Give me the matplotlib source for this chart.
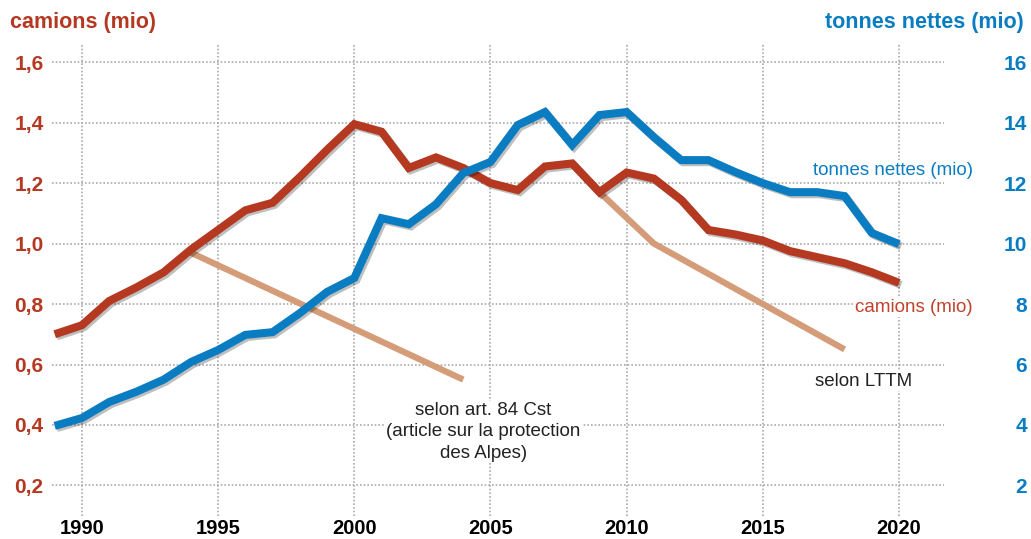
import matplotlib
matplotlib.use("Agg")
import matplotlib.pyplot as plt
import matplotlib.patheffects as pe

# données
annees = list(range(1989, 2021))
camions = [0.70, 0.73, 0.81, 0.855, 0.905, 0.98, 1.045, 1.11, 1.135, 1.22,
           1.31, 1.395, 1.37, 1.25, 1.285, 1.25, 1.20, 1.177, 1.255, 1.265,
           1.17, 1.235, 1.215, 1.145, 1.045, 1.03, 1.01, 0.975, 0.955, 0.935,
           0.905, 0.87]
tonnes = [3.97, 4.23, 4.76, 5.1, 5.5, 6.08, 6.48, 6.98, 7.07, 7.7,
          8.4, 8.86, 10.84, 10.64, 11.3, 12.33, 12.7, 13.92, 14.35, 13.26,
          14.25, 14.35, 13.52, 12.76, 12.76, 12.36, 12.0, 11.7, 11.7, 11.57,
          10.35, 9.98]

# objectifs
art84_x = [1994, 2004]
art84_y = [0.97, 0.55]
lttm_x = [2009, 2011, 2018]
lttm_y = [1.17, 1.0, 0.65]

x_ticks = [1990, 1995, 2000, 2005, 2010, 2015, 2020]
y_ticks = [0.2, 0.4, 0.6, 0.8, 1.0, 1.2, 1.4, 1.6]
y_labels = ["0,2", "0,4", "0,6", "0,8", "1,0", "1,2", "1,4", "1,6"]
y2_labels = ["2", "4", "6", "8", "10", "12", "14", "16"]

rouge = "#B53820"
bleu = "#0A7DC2"
orange = "#D49C78"
police = "Liberation Sans"

fig = plt.figure(figsize=(10.31, 5.39), dpi=100)
ax = fig.add_axes([0.0504, 0.0427, 0.8652, 0.8773])
ax.set_xlim(1988.9, 2021.65)
ax.set_ylim(0.099, 1.663)

for s in ax.spines.values():
    s.set_visible(False)

# grille pointillée
for xv in x_ticks:
    ax.axvline(xv, color="#aaaaaa", lw=1.2, ls=(0, (1, 1.2)), zorder=0)
for yv in y_ticks:
    ax.axhline(yv, color="#aaaaaa", lw=1.2, ls=(0, (1, 1.2)), zorder=0)

ombre = [pe.SimpleLineShadow(offset=(1.5, -1.5), shadow_color="black", alpha=0.25),
         pe.Normal()]

ax.plot(art84_x, art84_y, color=orange, lw=4.5, solid_capstyle="butt", zorder=2)
ax.plot(lttm_x, lttm_y, color=orange, lw=4.5, solid_capstyle="butt", zorder=2)
ax.plot(annees, camions, color=rouge, lw=5.8, solid_joinstyle="miter",
        solid_capstyle="butt", path_effects=ombre, zorder=3)
tonnes_sc = [t / 10 for t in tonnes]
ax.plot(annees, tonnes_sc, color=bleu, lw=5.8, solid_joinstyle="miter",
        solid_capstyle="butt", path_effects=ombre, zorder=4)

# axes
ax.set_xticks(x_ticks)
ax.set_xticklabels([str(x) for x in x_ticks], fontfamily=police,
                   fontweight="bold", fontsize=14.5, color="black")
ax.set_yticks(y_ticks)
ax.set_yticklabels(y_labels, fontfamily=police, fontweight="bold",
                   fontsize=15, color=rouge)
ax.tick_params(axis="both", length=0)
ax.tick_params(axis="x", pad=2)
ax.tick_params(axis="y", pad=6)

ax2 = ax.twinx()
ax2.set_ylim(0.99, 16.63)
for s in ax2.spines.values():
    s.set_visible(False)
ax2.set_yticks([v * 10 for v in y_ticks])
ax2.set_yticklabels(y2_labels, fontfamily=police, fontweight="bold",
                    fontsize=15, color=bleu, ha="right")
ax2.tick_params(axis="y", length=0, pad=60)

# titres des axes
fig.text(0.010, 0.958, "camions (mio)", color=rouge, fontfamily=police,
         fontweight="bold", fontsize=15.5, ha="left", va="center")
fig.text(0.993, 0.958, "tonnes nettes (mio)", color=bleu, fontfamily=police,
         fontweight="bold", fontsize=15.5, ha="right", va="center")

# étiquettes
boite = dict(facecolor="white", edgecolor="none", pad=1)
ax.text(2019.78, 1.243, "tonnes nettes (mio)", color=bleu, fontfamily=police,
        fontsize=13.5, ha="center", va="center", bbox=boite, zorder=5)
ax.text(2020.55, 0.79, "camions (mio)", color="#C0432B", fontfamily=police,
        fontsize=13.5, ha="center", va="center", bbox=boite, zorder=5)
ax.text(2018.68, 0.545, "selon LTTM", color="#222222", fontfamily=police,
        fontsize=13.5, ha="center", va="center", bbox=boite, zorder=5)
ax.text(2004.74, 0.377, "selon art. 84 Cst\n(article sur la protection\ndes Alpes)",
        color="#222222", fontfamily=police, fontsize=13.5, ha="center",
        va="center", linespacing=1.35, bbox=boite, zorder=5)

fig.savefig("out.png", dpi=100)
